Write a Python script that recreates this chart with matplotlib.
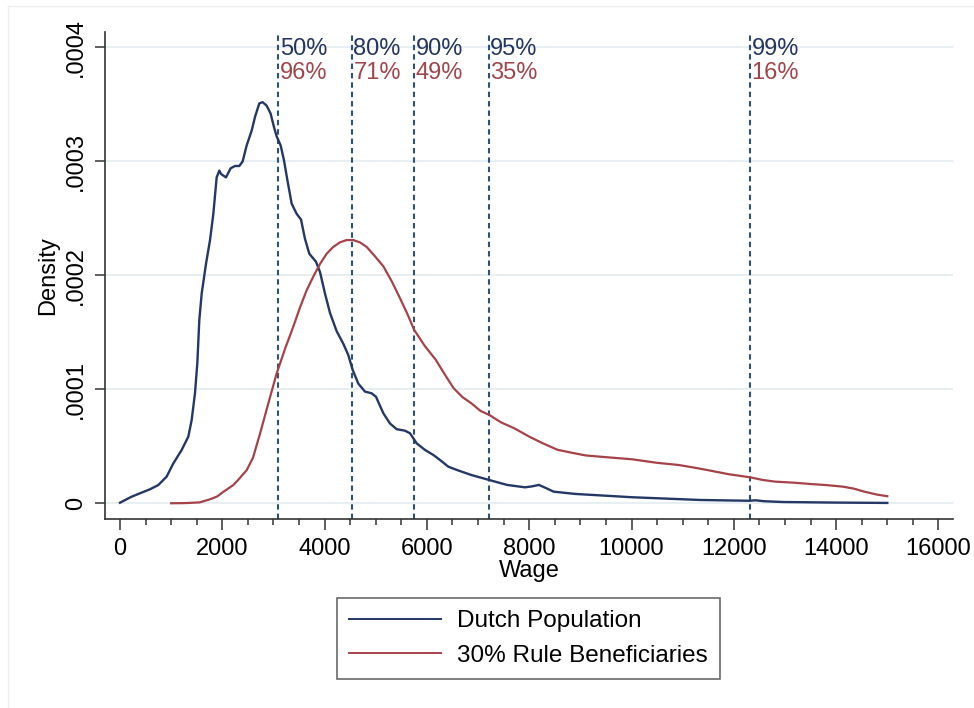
import numpy as np
import matplotlib
matplotlib.use("Agg")
import matplotlib.pyplot as plt
from matplotlib.ticker import MultipleLocator
from matplotlib.lines import Line2D

plt.rcParams["font.family"] = ["Liberation Sans", "DejaVu Sans"]
plt.rcParams["font.size"] = 17

# kernel density of monthly wages, Dutch population
dutch_wage = [0, 228, 587, 749, 912, 1043, 1206, 1336, 1401, 1466, 1512, 1551,
              1597, 1681, 1760, 1825, 1890, 1942, 1975, 2072, 2164, 2248, 2333,
              2398, 2476, 2574, 2639, 2724, 2789, 2867, 2945, 3011, 3063, 3141,
              3206, 3271, 3356, 3454, 3539, 3617, 3701, 3832, 3910, 4008, 4106,
              4236, 4366, 4464, 4549, 4659, 4790, 4920, 5005, 5148, 5279, 5409,
              5572, 5670, 5800, 5963, 6126, 6256, 6419, 6600, 6870, 7220, 7568,
              7918, 8050, 8190, 8320, 8477, 8900, 10010, 11340, 12300, 12420,
              12600, 12968, 14000, 15000]
dutch_density = [0.5, 5.8, 12.3, 16.0, 23.4, 35.0, 46.8, 58.5, 73.0, 96.5, 123,
                 161, 184, 210, 231, 254, 286, 292, 289, 286, 294, 296, 296,
                 300, 314, 327, 339, 351, 352, 349, 342, 330, 322, 314, 301,
                 284, 263, 254, 249, 232, 219, 212, 203, 184, 167, 151, 140,
                 130, 117, 105, 98, 96.5, 93.5, 79, 70, 65, 63.7, 61.4, 52.6,
                 46.8, 42.4, 38, 32.1, 29, 24.8, 20.4, 16.1, 14.0, 14.8, 16.1,
                 13.5, 10.2, 8.2, 5.3, 2.9, 2.2, 2.6, 1.8, 1.1, 0.6, 0.3]

# kernel density of monthly wages, 30% rule beneficiaries
rule_wage = [1000, 1300, 1560, 1760, 1900, 2020, 2215, 2300, 2476, 2600, 2737,
             2900, 3063, 3230, 3388, 3520, 3650, 3780, 3910, 4040, 4170, 4300,
             4431, 4561, 4690, 4822, 4980, 5148, 5310, 5474, 5620, 5753, 5960,
             6172, 6350, 6522, 6700, 6870, 7050, 7220, 7450, 7709, 8000, 8268,
             8550, 8826, 9100, 9384, 10012, 10500, 10921, 11200, 11479, 11900,
             12317, 12560, 12806, 13200, 13503, 13800, 14133, 14350, 14551,
             14800, 15000]
rule_density = [0, 0.2, 0.8, 3.5, 6, 10, 16, 20, 29, 40, 61, 87.7, 114, 136,
                155, 172, 187, 199, 210, 219, 225, 229, 231, 231, 229, 225, 217,
                208, 195, 180, 166, 152, 138, 126, 113, 101, 93, 87.7, 81, 77.5,
                71, 65.8, 58.5, 52.6, 47, 44.4, 42, 40.9, 38.6, 35.5, 33.6, 31.5,
                29.2, 25.5, 22.8, 20.5, 19, 18, 16.9, 16, 14.6, 12.8, 10.2, 7.6,
                6.2]

# percentile cut-offs of the Dutch wage distribution and share of
# beneficiaries above each cut-off
cut_wage = [3094, 4528, 5747, 7207, 12317]
cut_pop = ["50%", "80%", "90%", "95%", "99%"]
cut_rule = ["96%", "71%", "49%", "35%", "16%"]

y_ticks = [0, 0.0001, 0.0002, 0.0003, 0.0004]
y_tick_labels = ["0", ".0001", ".0002", ".0003", ".0004"]
x_ticks = list(range(0, 16001, 2000))

navy = "#243765"
maroon = "#a5424a"
vline_col = "#2c5274"

fig = plt.figure(figsize=(9.74, 7.08), dpi=100, facecolor="white")
# faint graph-region outline (top and left edges only)
fig.lines.append(Line2D([8 / 974, 1.0], [1 - 6 / 708] * 2, transform=fig.transFigure,
                        color="#eeeeee", lw=1))
fig.lines.append(Line2D([8 / 974] * 2, [0.0, 1 - 6 / 708], transform=fig.transFigure,
                        color="#eeeeee", lw=1))
ax = fig.add_axes([105 / 974, 1 - 519 / 708, 848 / 974, 487 / 708])

for yt in y_ticks:
    ax.axhline(yt, color="#e8eff2", lw=1.5, zorder=0)

ax.plot(dutch_wage, np.array(dutch_density) * 1e-6, color=navy, lw=1.7,
        label="Dutch Population", zorder=3)
ax.plot(rule_wage, np.array(rule_density) * 1e-6, color=maroon, lw=1.6,
        label="30% Rule Beneficiaries", zorder=3)

for w, p, r in zip(cut_wage, cut_pop, cut_rule):
    ax.axvline(w, color=vline_col, lw=1.5, dashes=(2.6, 1.9), zorder=2)
    ax.annotate(p, xy=(w, 1), xycoords=("data", "axes fraction"),
                xytext=(1.2, -16.5), textcoords="offset points",
                color="#24365e", fontsize=17, va="baseline", ha="left")
    ax.annotate(r, xy=(w, 1), xycoords=("data", "axes fraction"),
                xytext=(1.2, -33.8), textcoords="offset points",
                color="#a0454a", fontsize=17, va="baseline", ha="left")

ax.set_xlim(-293, 16285)
ax.set_ylim(-0.0000138, 0.0004136)

ax.set_xticks(x_ticks)
ax.set_xticklabels([str(v) for v in x_ticks])
ax.xaxis.set_minor_locator(MultipleLocator(500))
ax.set_yticks(y_ticks)
ax.set_yticklabels(y_tick_labels, rotation=90, va="center")

ax.spines["top"].set_visible(False)
ax.spines["right"].set_visible(False)
for s in ["left", "bottom"]:
    ax.spines[s].set_color("#333333")
    ax.spines[s].set_linewidth(1.2)

ax.tick_params(axis="x", which="major", length=8, width=1.1, color="#333333",
               pad=6, labelsize=17)
ax.tick_params(axis="x", which="minor", length=4.3, width=1.1, color="#333333")
ax.tick_params(axis="y", which="major", length=7.2, width=1.1, color="#333333",
               pad=6, labelsize=17)

ax.set_xlabel("Wage", fontsize=17, labelpad=0)
ax.set_ylabel("Density", fontsize=17, labelpad=4)

leg = fig.legend(loc="center", bbox_to_anchor=(528.5 / 974, 1 - 638.5 / 708),
                 fontsize=17.5, frameon=True, fancybox=False, shadow=False,
                 handlelength=3.8, handletextpad=0.65, labelspacing=0.5,
                 borderpad=0.5, borderaxespad=0)
leg.get_frame().set_edgecolor("#444444")
leg.get_frame().set_linewidth(1.2)
for h in leg.get_lines():
    h.set_linewidth(1.4)

fig.savefig("out.png", dpi=100, facecolor="white")
